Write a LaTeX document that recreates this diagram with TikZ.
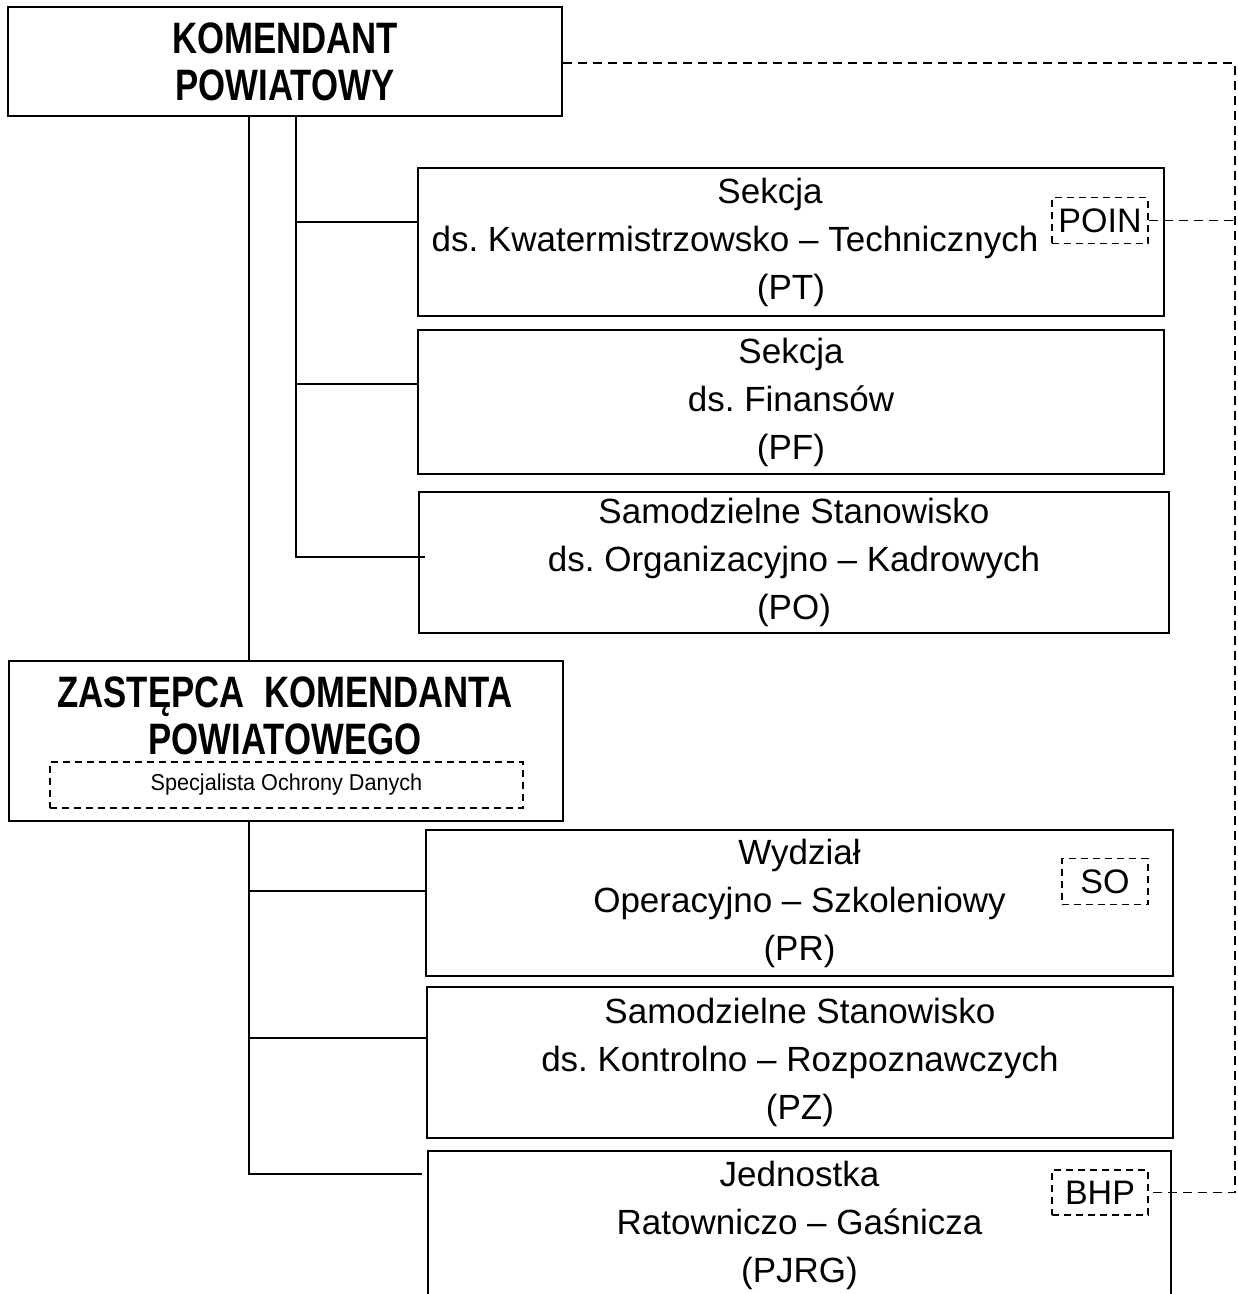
\documentclass[tikz,border=0pt]{standalone}
\usepackage{fontspec}
\setmainfont{Liberation Sans}
\newfontfamily\naglowek[FakeStretch=0.79]{Liberation Sans}
\newfontfamily\drobna[FakeStretch=0.94]{Liberation Sans}
\frenchspacing

\begin{document}
\begin{tikzpicture}[x=1pt,y=-1pt,
  komorka/.style={draw, line width=2pt, inner sep=0pt, align=center, anchor=north west, font=\fontsize{35}{48}\selectfont},
  szef/.style={komorka, font=\naglowek\bfseries\fontsize{44}{47}\selectfont},
  napis/.style={inner sep=0pt, align=center, font=\naglowek\bfseries\fontsize{44}{47}\selectfont},
  znacznik/.style={draw, line width=1.5pt, dash pattern=on 7pt off 5pt, inner sep=0pt, minimum width=96pt, minimum height=46pt, font=\fontsize{34}{40}\selectfont},
  linia/.style={line width=2pt},
  przerywana/.style={line width=1.5pt, dash pattern=on 9pt off 6pt}]
\useasboundingbox (0,0) rectangle (1238,1294);
\clip (0,0) rectangle (1238,1294);
% komendant - korzen
\node[szef, minimum width=554pt, minimum height=109pt] (kp) at (7,6) {KOMENDANT\\POWIATOWY};
% komorki podlegle komendantowi
\node[komorka, minimum width=746pt, minimum height=148pt] (pt) at (417,167) {Sekcja\rule{42pt}{0pt}\\ds. Kwatermistrzowsko – Technicznych\rule{112pt}{0pt}\\(PT)};
\node[znacznik] (poin) at (1100,220.5) {POIN};
\node[komorka, minimum width=746pt, minimum height=144pt] (pf) at (417,329) {Sekcja\\ds. Finansów\\(PF)};
\node[komorka, minimum width=750pt, minimum height=141pt] (po) at (418,491) {Samodzielne Stanowisko\\ds. Organizacyjno – Kadrowych\\(PO)};
% zastepca
\node[komorka, minimum width=554pt, minimum height=160pt] (zkp) at (8,660) {};
\node[napis] (zkpt) at (285,716) {ZASTĘPCA\ \ KOMENDANTA\\POWIATOWEGO};
\node[znacznik, minimum width=473pt, font=\drobna\fontsize{23}{28}\selectfont] (sod) at (286.5,785) {\raisebox{-3pt}{Specjalista Ochrony Danych}};
% komorki podlegle zastepcy
\node[komorka, minimum width=747pt, minimum height=146pt] (pr) at (425,829) {Wydział\\Operacyjno – Szkoleniowy\\(PR)};
\node[znacznik, minimum width=86pt] (so) at (1105,881.5) {SO};
\node[komorka, minimum width=746pt, minimum height=151pt] (pz) at (426,986) {Samodzielne Stanowisko\\ds. Kontrolno – Rozpoznawczych\\(PZ)};
\node[komorka, minimum width=743pt, minimum height=148pt] (pjrg) at (427,1150) {Jednostka\\Ratowniczo – Gaśnicza\\(PJRG)};
\node[znacznik, minimum height=45pt] (bhp) at (1100,1192.5) {BHP};
% szyny pionowe
\coordinate (szyna1) at (296,0);
\coordinate (szyna2) at (249,0);
\coordinate (prawa) at (1235,0);
% pion do zastepcy
\draw[linia] (kp.south -| szyna2) -- (zkp.north -| szyna2);
% galezie komendanta
\draw[linia] (kp.south -| szyna1) |- ([yshift=20pt]pt.west);
\draw[linia] (kp.south -| szyna1) |- ([yshift=18pt]pf.west);
\draw[linia] (kp.south -| szyna1) |- ([xshift=7pt,yshift=6pt]po.west);
% galezie zastepcy
\draw[linia] (zkp.south -| szyna2) |- ([yshift=12pt]pr.west);
\draw[linia] (zkp.south -| szyna2) |- ([yshift=25pt]pz.west);
\draw[linia] (zkp.south -| szyna2) |- ([xshift=-5pt,yshift=51pt]pjrg.west);
% nadzor - linie przerywane
\draw[przerywana] ([yshift=-1.5pt]kp.east) -| (prawa |- bhp.east) -- (bhp.east);
\draw[przerywana] (poin.east) -- (poin.east -| prawa);
\end{tikzpicture}
\end{document}
